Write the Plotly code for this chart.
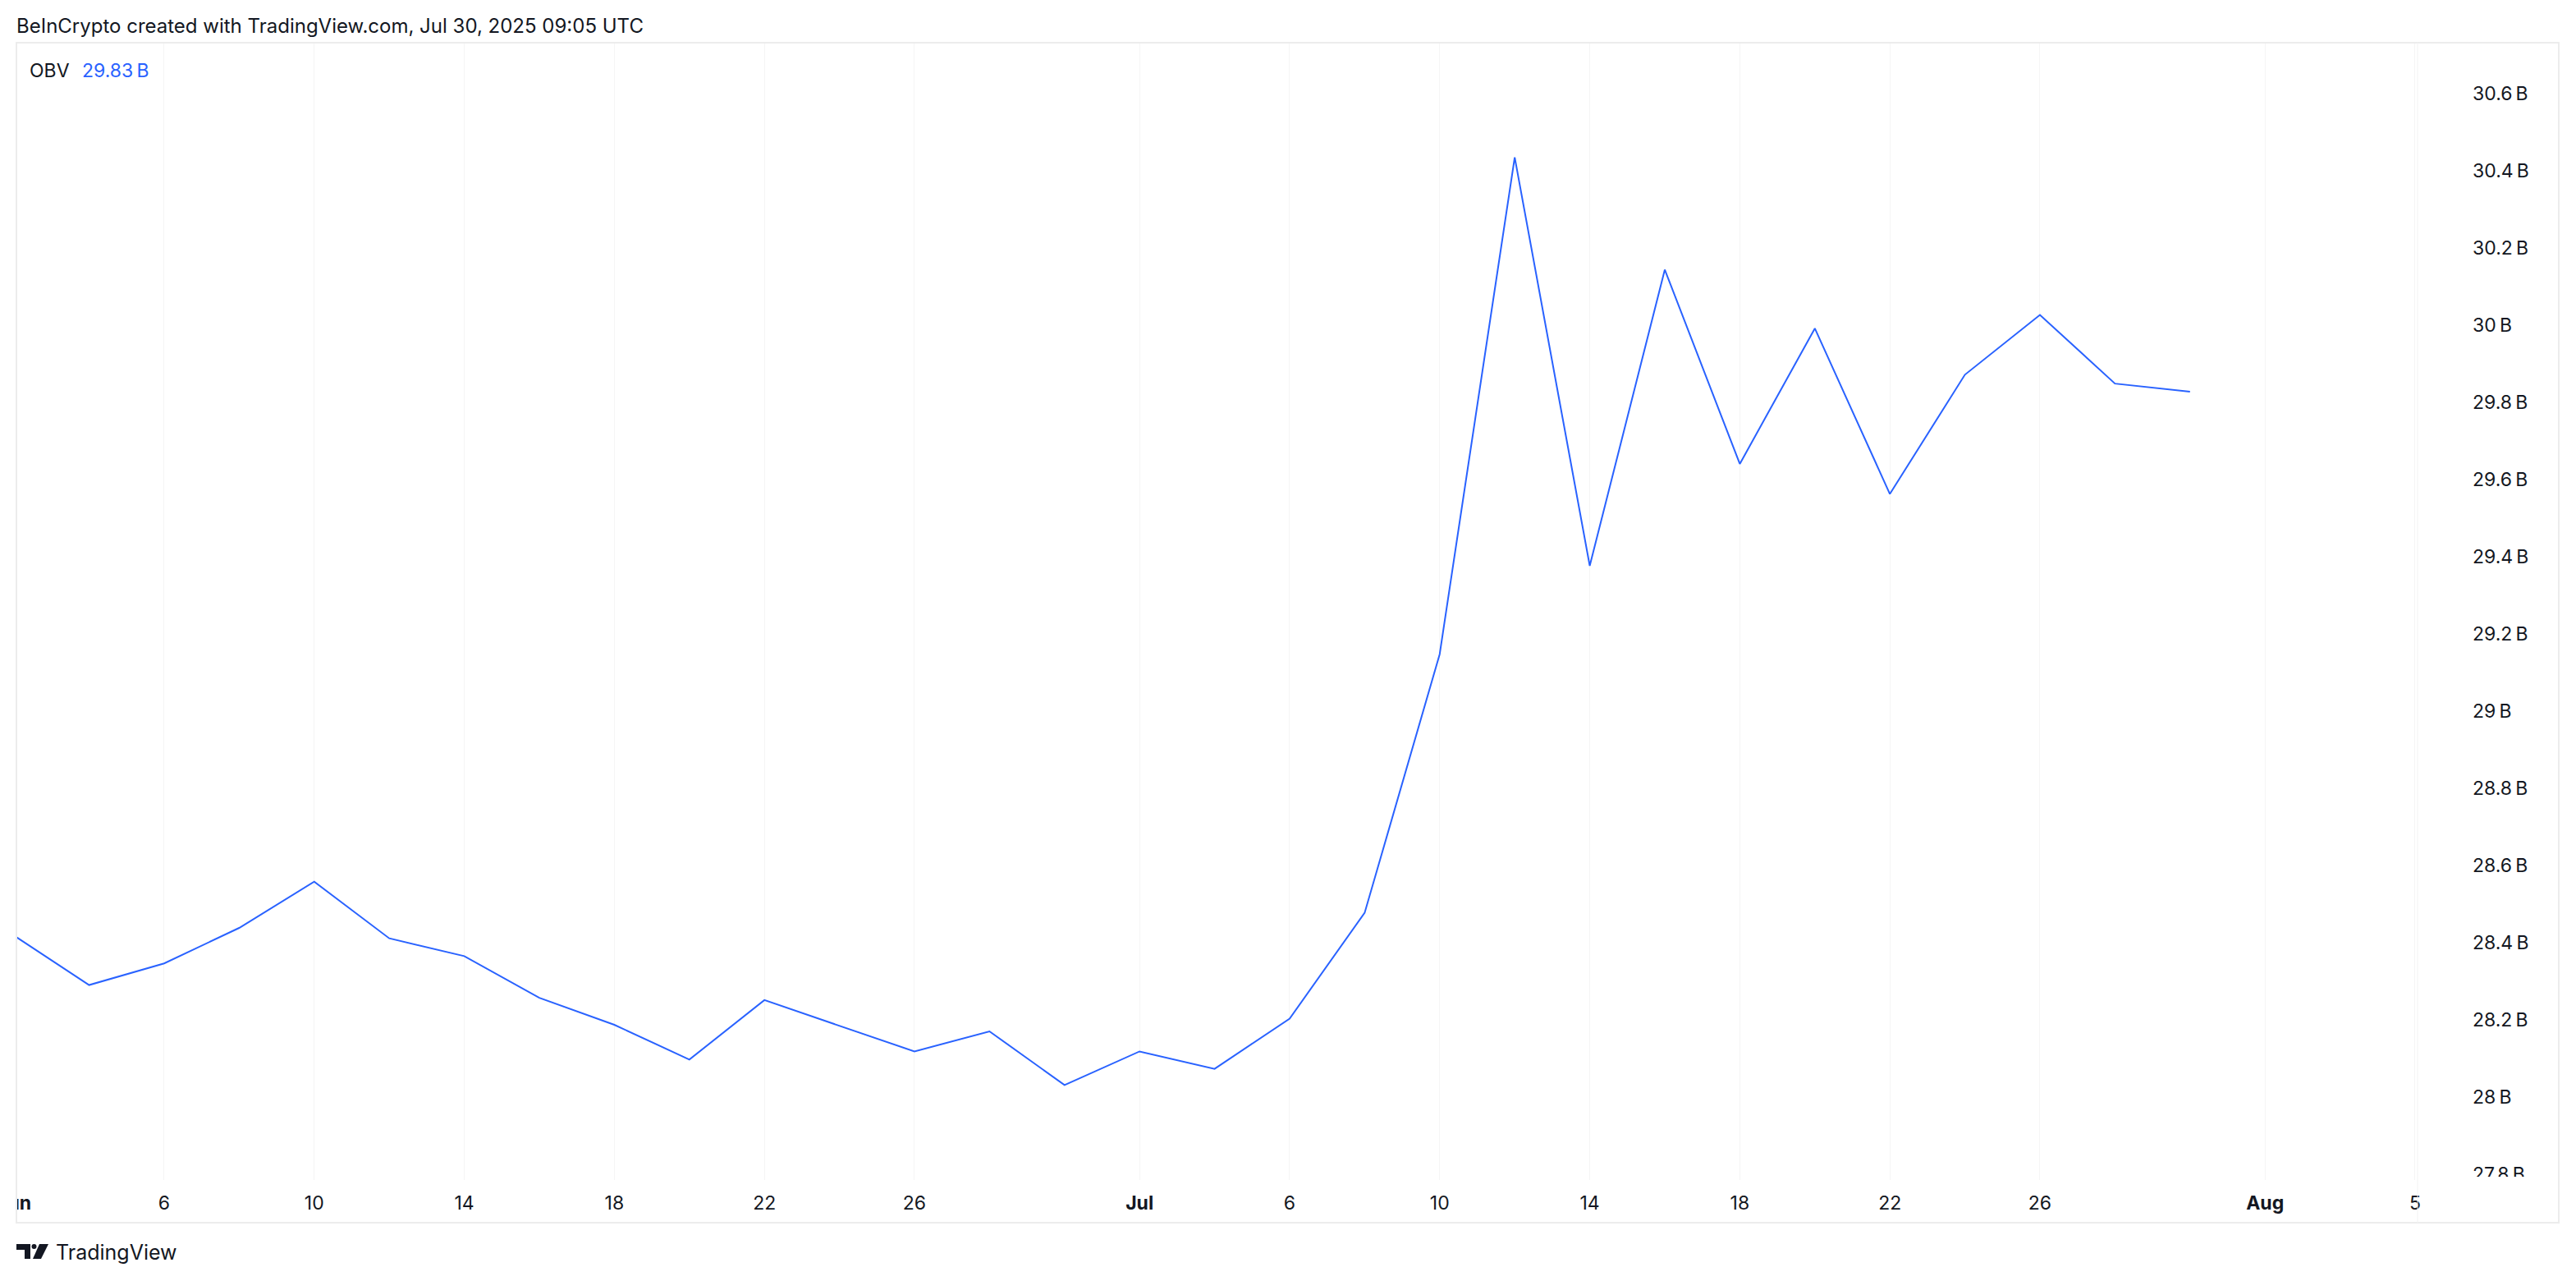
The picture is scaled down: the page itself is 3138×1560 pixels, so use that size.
import plotly.graph_objects as go

# ---- data (2-day bars) ----
dates = ["2025-06-02", "2025-06-04", "2025-06-06", "2025-06-08", "2025-06-10",
         "2025-06-12", "2025-06-14", "2025-06-16", "2025-06-18", "2025-06-20",
         "2025-06-22", "2025-06-24", "2025-06-26", "2025-06-28", "2025-06-30",
         "2025-07-02", "2025-07-04", "2025-07-06", "2025-07-08", "2025-07-10",
         "2025-07-12", "2025-07-14", "2025-07-16", "2025-07-18", "2025-07-20",
         "2025-07-22", "2025-07-24", "2025-07-26", "2025-07-28", "2025-07-30"]
obv_b = [28.418, 28.290, 28.346, 28.438, 28.558,
         28.411, 28.365, 28.257, 28.187, 28.097,
         28.251, 28.184, 28.118, 28.170, 28.031,
         28.118, 28.073, 28.203, 28.477, 29.147,
         30.434, 29.376, 30.143, 29.640, 29.991,
         29.562, 29.871, 30.026, 29.848, 29.827]

x_tickvals = ["2025-06-02", "2025-06-06", "2025-06-10", "2025-06-14", "2025-06-18",
              "2025-06-22", "2025-06-26", "2025-07-02", "2025-07-06", "2025-07-10",
              "2025-07-14", "2025-07-18", "2025-07-22", "2025-07-26", "2025-08-01",
              "2025-08-05"]
x_ticktext = ["<b>Jun</b>", "6", "10", "14", "18", "22", "26", "<b>Jul</b>", "6", "10",
              "14", "18", "22", "26", "<b>Aug</b>", "5"]
y_tickvals = [27.8, 28.0, 28.2, 28.4, 28.6, 28.8, 29.0, 29.2, 29.4, 29.6,
              29.8, 30.0, 30.2, 30.4, 30.6]
y_ticktext = ["27.8\u2009B", "28\u2009B", "28.2\u2009B", "28.4\u2009B", "28.6\u2009B",
              "28.8\u2009B", "29\u2009B", "29.2\u2009B", "29.4\u2009B", "29.6\u2009B",
              "29.8\u2009B", "30\u2009B", "30.2\u2009B", "30.4\u2009B", "30.6\u2009B"]

header = "BeInCrypto created with TradingView.com, Jul 30, 2025 09:05 UTC"
indicator = "OBV"

# ---- layout geometry (page pixels; the html body adds an 8 px margin) ----
OFF = 8
VW, VH = 3138, 1560
W, H = VW - OFF, VH - 2 * OFF
L, R, T, B = 17, 2945, 52, 1437          # pane edges in page pixels
PW, PH = R - L, B - T


def px(xp):
    return (xp - L) / PW


def py(yp):
    return (B - yp) / PH


FONT = "Inter"
TXT = "#131722"
BLUE = "#2962ff"
FRAME = "#ececec"

fig = go.Figure()
fig.add_trace(go.Scatter(x=dates, y=obv_b, mode="lines",
                         line=dict(color=BLUE, width=2), hoverinfo="skip",
                         showlegend=False))

shapes = [
    # mask everything left of the frame (clipped first label / line start)
    dict(type="rect", xref="paper", yref="paper", x0=px(-10), x1=px(19.5),
         y0=py(1488), y1=py(T), fillcolor="white", line=dict(width=0), layer="above"),
    # mask the clipped bottom of the lowest price label
    dict(type="rect", xref="paper", yref="paper", x0=px(2985), x1=px(3112),
         y0=py(1452), y1=py(1433), fillcolor="white", line=dict(width=0), layer="above"),
    # outer frame
    dict(type="rect", xref="paper", yref="paper", x0=px(20), x1=px(3117),
         y0=py(1489), y1=py(T), line=dict(color=FRAME, width=2),
         fillcolor="rgba(0,0,0,0)", layer="above"),
    # pane / price-scale separator
    dict(type="line", xref="paper", yref="paper", x0=px(R), x1=px(R),
         y0=py(1489), y1=py(T), line=dict(color="#f3f3f3", width=1), layer="above"),
    # TradingView logo
    dict(type="path", xref="paper", yref="paper", layer="above",
         path=f"M {px(20)} {py(1515)} L {px(37)} {py(1515)} L {px(37)} {py(1533)} "
              f"L {px(30)} {py(1533)} L {px(30)} {py(1522)} L {px(20)} {py(1522)} Z",
         fillcolor=TXT, line=dict(width=0)),
    dict(type="circle", xref="paper", yref="paper", layer="above",
         x0=px(38.5), x1=px(44.5), y0=py(1521), y1=py(1515),
         fillcolor=TXT, line=dict(width=0)),
    dict(type="path", xref="paper", yref="paper", layer="above",
         path=f"M {px(48)} {py(1515)} L {px(59)} {py(1515)} L {px(50)} {py(1533)} "
              f"L {px(40)} {py(1533)} Z",
         fillcolor=TXT, line=dict(width=0)),
]

annotations = [
    dict(text=header, xref="paper", yref="paper", x=px(18), y=py(31),
         xanchor="left", yanchor="middle", showarrow=False,
         font=dict(family=FONT, size=24, color=TXT)),
    dict(text=indicator, xref="paper", yref="paper", x=px(34), y=py(86),
         xanchor="left", yanchor="middle", showarrow=False,
         font=dict(family=FONT, size=23, color=TXT)),
    dict(text=f"{obv_b[-1]:.2f}\u2009B", xref="paper", yref="paper", x=px(98), y=py(86),
         xanchor="left", yanchor="middle", showarrow=False,
         font=dict(family=FONT, size=23, color=BLUE)),
    dict(text="TradingView", xref="paper", yref="paper", x=px(66), y=py(1525),
         xanchor="left", yanchor="middle", showarrow=False,
         font=dict(family=FONT, size=25, color=TXT)),
]

fig.update_layout(
    width=W, height=H,
    margin=dict(l=L - OFF, r=VW - R, t=T - OFF, b=(H + OFF) - B, pad=0, autoexpand=False),
    paper_bgcolor="white", plot_bgcolor="white",
    font=dict(family=FONT, color=TXT),
    shapes=shapes, annotations=annotations,
    xaxis=dict(type="date", range=["2025-06-01 23:55", "2025-08-05 01:35"],
               tickmode="array", tickvals=x_tickvals, ticktext=x_ticktext,
               tickfont=dict(family=FONT, size=23, color=TXT),
               showgrid=True, gridcolor="#f5f5f5", gridwidth=1,
               zeroline=False, showline=False, ticks="", ticklabelstandoff=12,
               ticklabeloverflow="allow",
               automargin=False, fixedrange=True),
    yaxis=dict(side="right", range=[27.785, 30.731],
               tickmode="array", tickvals=y_tickvals, ticktext=y_ticktext,
               tickfont=dict(family=FONT, size=23, color=TXT),
               showgrid=False, zeroline=False, showline=False, ticks="",
               ticklabelstandoff=66, ticklabeloverflow="allow",
               automargin=False, fixedrange=True),
)

fig.write_html("out.html")
